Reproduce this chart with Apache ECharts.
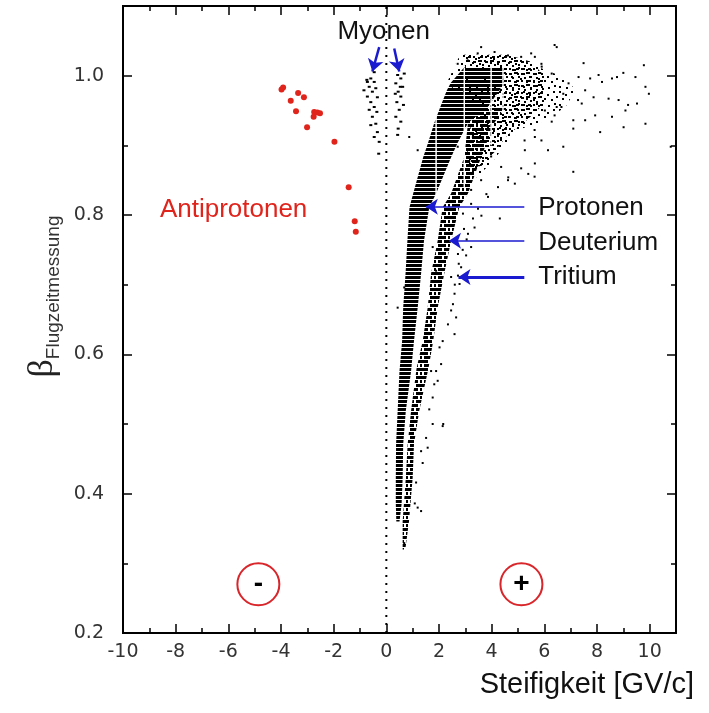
<!DOCTYPE html>
<html>
<head>
<meta charset="utf-8">
<script src="https://cdn.jsdelivr.net/npm/echarts@6/dist/echarts.min.js"></script>
<style>
  html, body { margin: 0; padding: 0; background: #fff; }
  #chart { width: 709px; height: 713px; }
</style>
</head>
<body>
<div id="chart"></div>
<script>
// axis ranges / ticks
var xMin = -10, xMax = 11, yMin = 0.2, yMax = 1.1;

// proton band edges (beta, left rigidity, right rigidity)
var protonBeta  = [1.012, 0.99, 0.979, 0.955, 0.932, 0.903, 0.883, 0.831, 0.811, 0.763, 0.716, 0.667, 0.619, 0.576, 0.519, 0.471, 0.423, 0.385, 0.36];
var protonLeft  = [2.96, 2.45, 2.30, 2.05, 1.82, 1.58, 1.40, 1.02, 0.88, 0.80, 0.73, 0.64, 0.60, 0.50, 0.43, 0.37, 0.36, 0.36, 0.38];
var protonRight = [4.45, 4.45, 4.30, 3.85, 3.10, 2.70, 2.46, 1.89, 1.63, 1.43, 1.32, 1.19, 1.05, 0.94, 0.74, 0.64, 0.62, 0.58, 0.50];

// deuterium band edges
var deutBeta  = [0.955, 0.932, 0.883, 0.831, 0.811, 0.763, 0.716, 0.667, 0.619, 0.58, 0.519, 0.471, 0.423, 0.36, 0.32];
var deutLeft  = [3.30, 3.10, 2.96, 2.46, 2.14, 1.95, 1.70, 1.57, 1.38, 1.15, 0.94, 0.81, 0.74, 0.62, 0.62];
var deutRight = [4.50, 4.10, 3.60, 3.10, 2.77, 2.46, 2.20, 1.95, 1.78, 1.60, 1.25, 1.05, 1.00, 0.86, 0.72];

// medium density halo around the top of the bands (outer and inner)
var haloX = [2.8, 4.8, 5.6, 6.6, 7.2, 6.8, 6.0, 5.2, 4.6, 4.0, 3.3, 3.0, 3.3, 2.3];
var haloY = [1.03, 1.03, 1.015, 1.0, 0.98, 0.955, 0.935, 0.925, 0.905, 0.875, 0.85, 0.87, 0.955, 0.99];
var coreX = [2.9, 4.6, 5.5, 6.0, 6.0, 5.3, 4.6, 4.1, 3.6, 3.2, 3.3];
var coreY = [1.03, 1.03, 1.02, 1.0, 0.96, 0.935, 0.915, 0.89, 0.87, 0.87, 0.955];

// white binning gaps in the dense block
var gapX      = [1.89, 2.96, 3.98, 4.43];
var gapTop    = [0.955, 1.012, 1.012, 1.012];
var gapBottom = [0.80, 0.84, 0.90, 0.95];

// single events
var sparseX = [6.47, 9.78, 7.49, 9.0, 8.57, 8.19, 9.84, 9.46, 9.97, 9.52, 9.08, 7.87, 8.44, 8.82, 7.93, 8.57, 9.01, 9.84, 8.12, 10.8,
  7.1, 7.1, 6.72, 7.42, 7.55, 6.92, 7.30, 7.74, 8.06, 8.76, 7.55, 7.1, 6.28, 5.64, 5.26, 5.64, 5.39, 4.88, 4.63, 6.47,
  6.02, 6.72, 6.28, 5.9, 5.64, 9.18, 2.33, 2.71, 3.6, 3.98, 4.36, 4.62, 5.12, 5.63, 6.14, 4.24, 3.6, 3.86, 3.22, 0.87,
  1.19, 6.39, 7.28, 6.65, 5.63, 5.89, 5.25, 3.47, 3.6, 4.11, 4.62, 5.12, 2.71, 6.39, 5.5, 3.09, 5.89, 3.22, 3.48, 3.61,
  3.29, 3.80, 2.91, 4.31, 3.10, 3.22, 3.03, 2.84, 2.72, 2.78, 2.59, 2.53, 2.46, 2.65, 2.34, 2.59, 2.14, 2.02, 2.08, 1.89,
  0.43, 0.68, 1.76, 1.89, 3.35, 2.46, 2.72, 2.14, 1.76, 1.63, 1.51, 1.57, 1.32, 1.38, 1.13, 1.19, 1.32, 0.74, 0.68, 1.76,
  1.82, 1.95, 1.70, 2.16, 1.08, 2.95, 3.05, 2.9, 2.6, 2.75];
var sparseY = [1.041, 1.015, 1.018, 1.004, 0.996, 0.991, 0.984, 0.998, 0.974, 0.96, 0.95, 0.969, 0.967, 0.965, 0.943, 0.941, 0.926, 0.931, 0.919, 0.898,
  0.924, 0.862, 0.898, 0.96, 0.979, 0.989, 0.998, 0.996, 1.001, 0.998, 0.936, 0.936, 0.934, 0.912, 0.893, 0.874, 0.859, 0.845, 0.854, 0.955,
  0.950, 0.974, 1.003, 1.013, 1.027, 0.958, 0.912, 0.898, 0.893, 0.884, 0.869, 0.850, 0.867, 0.855, 0.893, 0.840, 0.850, 0.826, 0.836, 0.912,
  0.893, 0.943, 0.965, 0.955, 0.922, 0.907, 0.907, 1.032, 1.041, 1.034, 1.029, 1.027, 1.017, 1.044, 1.032, 1.022, 1.017, 0.816, 0.809, 0.799,
  0.795, 0.830, 0.802, 0.795, 0.773, 0.754, 0.742, 0.725, 0.713, 0.701, 0.687, 0.672, 0.663, 0.653, 0.643, 0.629, 0.619, 0.610, 0.586, 0.576,
  0.667, 0.696, 0.754, 0.720, 0.782, 0.711, 0.744, 0.497, 0.500, 0.521, 0.480, 0.466, 0.461, 0.444, 0.416, 0.380, 0.375, 0.349, 0.329, 0.538,
  0.557, 0.562, 0.576, 0.50, 0.386, 0.78, 0.765, 0.75, 0.70, 0.73];

// muons (negative and positive)
var muonX = [-0.74, -0.59, -0.46, -0.65, -0.40, -0.53, -0.72, -0.34, -0.59, -0.46, -0.65, -0.36, -0.53, -0.40, -0.59, -0.34, -0.46, -0.27, -0.72, -0.85, -0.46, -0.29,
  0.43, 0.55, 0.36, 0.62, 0.45, 0.55, 0.40, 0.65, 0.49, 0.36, 0.55, 0.45, 0.43, 0.68, 0.53, 0.34];
var muonY = [0.994, 0.996, 0.991, 0.984, 0.982, 0.977, 0.970, 0.969, 0.962, 0.955, 0.951, 0.948, 0.941, 0.931, 0.929, 0.919, 0.912, 0.905, 0.991, 0.979, 1.005, 0.888,
  1.001, 0.996, 0.989, 0.984, 0.977, 0.970, 0.962, 0.958, 0.951, 0.941, 0.934, 0.924, 0.915, 1.003, 0.984, 0.974];

// antiprotons
var antiX = [-3.98, -3.92, -3.35, -3.13, -3.63, -3.43, -2.74, -2.62, -2.52, -2.76, -3.01, -1.97, -1.43, -1.20, -1.16];
var antiY = [0.980, 0.983, 0.975, 0.969, 0.964, 0.949, 0.948, 0.947, 0.946, 0.941, 0.926, 0.905, 0.840, 0.791, 0.776];

// annotations
var labelText  = ['Myonen', 'Antiprotonen', 'Protonen', 'Deuterium', 'Tritium'];
var labelX     = [-0.1, -5.8, 5.77, 5.77, 5.77];
var labelY     = [1.063, 0.807, 0.810, 0.760, 0.711];
var labelColor = ['#111', '#e0241c', '#111', '#111', '#111'];
var labelAlign = ['center', 'center', 'left', 'left', 'left'];

// arrows: from -> to
var arrowFrom = [[5.24, 0.812], [5.24, 0.763], [5.24, 0.711], [-0.27, 1.041], [0.30, 1.039]];
var arrowTo   = [[1.50, 0.812], [2.38, 0.763], [2.74, 0.711], [-0.53, 1.006], [0.49, 1.006]];
var arrowWidth = [1.5, 1.5, 3, 2.5, 2.5];

// charge circles
var signText = ['-', '+'];
var signX = [-4.86, 5.13];
var signY = [0.27, 0.27];

function makePattern(w, h, rects) {
  var c = document.createElement('canvas');
  c.width = w; c.height = h;
  var g = c.getContext('2d');
  g.fillStyle = '#000';
  rects.forEach(function (r) { g.fillRect(r[0], r[1], r[2], r[3]); });
  return { image: c, repeat: 'repeat' };
}
var densePat = makePattern(4, 4, [[0, 0, 4, 3]]);
var deutPat = makePattern(14, 8, [[0, 0, 8, 3], [10, 0, 4, 3], [0, 4, 2, 3], [4, 4, 8, 3]]);
var corePat = makePattern(12, 12, [[0, 0, 2, 2], [5, 1, 3, 2], [10, 0, 2, 2], [2, 4, 2, 2], [8, 5, 2, 2], [0, 8, 3, 2], [5, 8, 2, 2], [10, 9, 2, 2]]);
var speckPat = makePattern(18, 18, [[1, 1, 2, 2], [7, 4, 2, 2], [13, 1, 2, 2], [4, 8, 2, 2], [11, 9, 2, 2], [16, 6, 2, 2], [1, 14, 2, 2], [8, 15, 2, 2], [14, 13, 2, 2]]);

function bandVerts(beta, left, right) {
  var v = [];
  for (var i = 0; i < beta.length; i++) v.push([left[i], beta[i]]);
  for (var j = beta.length - 1; j >= 0; j--) v.push([right[j], beta[j]]);
  return v;
}
function polySeries(verts, fill) {
  return {
    type: 'custom', silent: true, clip: true, data: verts,
    renderItem: function (params, api) {
      if (params.dataIndex !== 0) return;
      return { type: 'polygon', shape: { points: verts.map(function (p) { return api.coord(p); }) }, style: { fill: fill } };
    }
  };
}
function zip(a, b) { return a.map(function (v, i) { return [v, b[i]]; }); }

var FONT = 'Liberation Sans';
var black = '#000';

function xAx(pos, interval, len, labels) {
  return {
    type: 'value', gridIndex: 0, position: pos, min: xMin, max: xMax, interval: interval,
    axisLine: { show: true, onZero: false, lineStyle: { color: black, width: 2 } },
    axisTick: { show: true, inside: true, length: len, lineStyle: { color: black, width: 1.5 } },
    axisLabel: { show: !!labels, showMaxLabel: false, fontFamily: 'DejaVu Sans', fontSize: 19, color: '#333', margin: 10 },
    splitLine: { show: false }
  };
}
function yAx(pos, interval, len, labels) {
  return {
    type: 'value', gridIndex: 0, position: pos, min: yMin, max: yMax, interval: interval,
    axisLine: { show: true, onZero: false, lineStyle: { color: black, width: 2 } },
    axisTick: { show: true, inside: true, length: len, lineStyle: { color: black, width: 1.5 } },
    axisLabel: { show: !!labels, showMaxLabel: false, fontFamily: 'DejaVu Sans', fontSize: 19, color: '#333', margin: 19,
      formatter: function (v) { return v.toFixed(1); } },
    splitLine: { show: false }
  };
}

var xAxes = [xAx('bottom', 2, 9, true), xAx('top', 2, 9, false), xAx('bottom', 1, 5, false), xAx('top', 1, 5, false)];
xAxes[2].gridIndex = 1; xAxes[3].gridIndex = 1;
xAxes[0].name = 'Steifigkeit [GV/c]';
xAxes[0].nameLocation = 'end';
xAxes[0].nameGap = 18;
xAxes[0].nameTextStyle = { fontFamily: FONT, fontSize: 29, color: '#111', align: 'right', verticalAlign: 'top', padding: [37, 0, 0, 0] };

var yAxes = [yAx('left', 0.2, 9, true), yAx('right', 0.2, 9, false), yAx('left', 0.1, 5, false), yAx('right', 0.1, 5, false)];
yAxes[2].gridIndex = 1; yAxes[3].gridIndex = 1;
yAxes[0].name = '{b|β}{s|Flugzeitmessung}';
yAxes[0].nameLocation = 'middle';
yAxes[0].nameRotate = 90;
yAxes[0].nameGap = 60;
yAxes[0].nameTextStyle = {
  padding: [0, 0, 0, 46],
  rich: {
    b: { fontFamily: 'Liberation Serif', fontSize: 36, color: '#222', verticalAlign: 'top', lineHeight: 38 },
    s: { fontFamily: FONT, fontSize: 19, color: '#333', verticalAlign: 'bottom', lineHeight: 38 }
  }
};

var gridBox = { left: 123, right: 33, top: 6, bottom: 80 };

var option = {
  backgroundColor: '#fff',
  animation: false,
  grid: [Object.assign({}, gridBox), Object.assign({}, gridBox)],
  xAxis: xAxes,
  yAxis: yAxes,
  series: [
    polySeries(zip(haloX, haloY), speckPat),
    polySeries(zip(coreX, coreY), corePat),
    polySeries(bandVerts(deutBeta, deutLeft, deutRight), deutPat),
    polySeries(bandVerts(protonBeta, protonLeft, protonRight), densePat),
    {
      type: 'custom', silent: true, clip: true,
      data: gapX.map(function (x, i) { return [x, gapTop[i], gapBottom[i]]; }),
      renderItem: function (params, api) {
        var a = api.coord([api.value(0), api.value(1)]);
        var b = api.coord([api.value(0), api.value(2)]);
        return { type: 'rect', shape: { x: a[0] - 0.75, y: a[1], width: 1.5, height: b[1] - a[1] }, style: { fill: '#fff' } };
      }
    },
    {
      type: 'line', silent: true, symbol: 'none', data: [[0, yMin], [0, yMax]],
      lineStyle: { color: black, width: 2, type: [2, 6] }
    },
    {
      type: 'scatter', silent: true, symbol: 'rect', symbolSize: [2, 2],
      itemStyle: { color: black, opacity: 1 }, data: zip(sparseX, sparseY)
    },
    {
      type: 'scatter', silent: true, symbol: 'rect', symbolSize: [3, 2],
      itemStyle: { color: black, opacity: 1 }, data: zip(muonX, muonY)
    },
    {
      type: 'scatter', silent: true, symbol: 'circle', symbolSize: 6,
      itemStyle: { color: '#e0241c', opacity: 1 }, data: zip(antiX, antiY)
    },
    {
      type: 'lines', coordinateSystem: 'cartesian2d', silent: true,
      symbol: ['none', 'arrow'], symbolSize: 12,
      data: arrowFrom.map(function (f, i) {
        return { coords: [f, arrowTo[i]], lineStyle: { width: arrowWidth[i] } };
      }),
      lineStyle: { color: '#1a1ad0', width: 1.5, opacity: 1 }
    },
    {
      type: 'scatter', silent: true, symbol: 'circle', symbolSize: 42,
      data: signX.map(function (x, i) {
        return { value: [x, signY[i]], label: { formatter: signText[i] } };
      }),
      itemStyle: { color: 'rgba(0,0,0,0)', borderColor: '#d9262b', borderWidth: 2, opacity: 1 },
      label: { show: true, position: 'inside', fontFamily: FONT, fontSize: 28, fontWeight: 'bold', color: '#000' }
    },
    {
      type: 'scatter', silent: true, symbolSize: 0,
      itemStyle: { opacity: 1 },
      data: labelText.map(function (t, i) {
        return {
          value: [labelX[i], labelY[i]],
          label: { formatter: t, color: labelColor[i], align: labelAlign[i] }
        };
      }),
      label: { show: true, position: 'inside', fontFamily: FONT, fontSize: 26, verticalAlign: 'middle' }
    }
  ]
};

var chart = echarts.init(document.getElementById('chart'), null, { renderer: 'canvas' });
chart.setOption(option);
</script>
</body>
</html>
